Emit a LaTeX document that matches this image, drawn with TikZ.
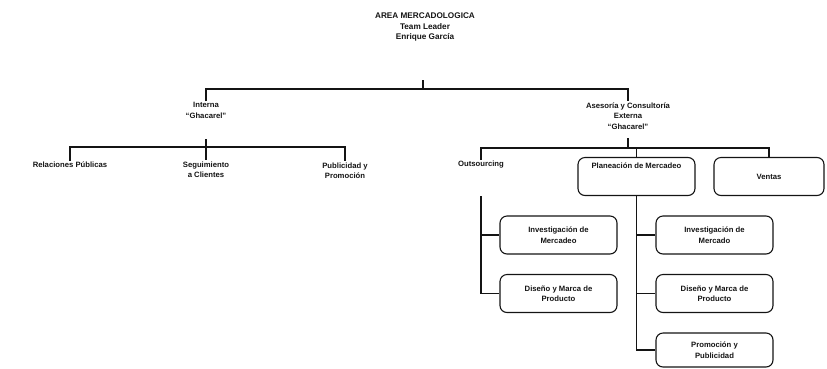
\documentclass[tikz,border=0pt]{standalone}
\usepackage{fontspec}
\setmainfont{Liberation Sans}
\usepackage{xcolor}
\usepackage{tikz}
\usetikzlibrary{positioning}
\definecolor{inkblack}{RGB}{20, 20, 20}

\begin{document}
\begin{tikzpicture}[
    x=1pt, y=-1pt,
    label/.style={align=center, inner sep=1pt, font=\fontsize{7.7}{10.5}\selectfont\bfseries, text=inkblack},
    unit/.style={draw=inkblack, line width=1.1pt, rounded corners=7pt, align=center, inner sep=0pt,
                 minimum width=117pt, minimum height=38pt, font=\fontsize{7.7}{10.5}\selectfont\bfseries, text=inkblack},
    link/.style={draw=inkblack, line width=1.1pt}
]
    \useasboundingbox (0,0) rectangle (827,368);

    \node[label, font=\fontsize{8.2}{10.2}\selectfont\bfseries] (area) at (425,27) {AREA MERCADOLOGICA\\Team Leader\\Enrique García};

    \node[label] (interna) at (206,110.5) {Interna\\``Ghacarel''};
    \node[label] (asesoria) at (628,116) {Asesoría y Consultoría\\Externa\\``Ghacarel''};

    \node[label] (relaciones) at (70,165) {Relaciones Públicas};
    \node[label] (seguimiento) at (206,169.5) {Seguimiento\\a Clientes};
    \node[label] (publicidad) at (345,170.5) {Publicidad y\\Promoción};

    \node[label] (outsourcing) at (481,165) {Outsourcing};
    \node[unit, text depth=22pt] (planeacion) at (636.5,176.5) {Planeación de Mercadeo};
    \node[unit, minimum width=110pt] (ventas) at (769,176.5) {Ventas};

    \node[unit] (investA) at (558.5,235) {Investigación de\\Mercadeo};
    \node[unit] (disenoA) at (558.5,293.5) {Diseño y Marca de\\Producto};
    \node[unit] (investB) at (714.5,235) {Investigación de\\Mercado};
    \node[unit] (disenoB) at (714.5,293.5) {Diseño y Marca de\\Producto};
    \node[unit, minimum height=34pt] (promocion) at (714.5,350) {Promoción y\\Publicidad};

    \coordinate (areastem) at (423,80);
    \coordinate (busarea) at (423,89);
    \coordinate (internastem) at (206,139);
    \coordinate (businterna) at (206,147);
    \coordinate (asesoriastem) at (628,138);
    \coordinate (busasesoria) at (628,148);
    \coordinate (outstem) at (481,196);

    \draw[link] (areastem) -- (busarea);
    \draw[link] (interna.north) |- (busarea) -| (asesoria.north);

    \draw[link] (internastem) -- (seguimiento.north);
    \draw[link] (relaciones.north) |- (businterna) -| (publicidad.north);

    \draw[link] (asesoriastem) -- (busasesoria);
    \draw[link] (outsourcing.north) |- (busasesoria) -| (ventas.north);
    \draw[link] (busasesoria -| planeacion.north) -- (planeacion.north);

    \draw[link] (outstem) |- (investA.west);
    \draw[link] (outstem) |- (disenoA.west);
    \draw[link] (planeacion.south) |- (investB.west);
    \draw[link] (planeacion.south) |- (disenoB.west);
    \draw[link] (planeacion.south) |- (promocion.west);
\end{tikzpicture}
\end{document}
